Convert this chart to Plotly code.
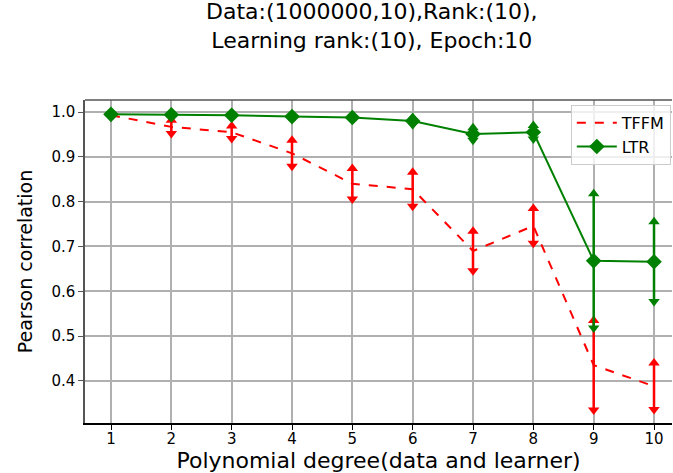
import plotly.graph_objects as go

degree = [1, 2, 3, 4, 5, 6, 7, 8, 9, 10]

tffm_mean = [0.993, 0.967, 0.955, 0.908, 0.840, 0.828, 0.690, 0.746, 0.435, 0.388]
tffm_err = [0.003, 0.015, 0.014, 0.029, 0.034, 0.038, 0.044, 0.039, 0.100, 0.052]

ltr_mean = [0.995, 0.994, 0.993, 0.990, 0.988, 0.980, 0.951, 0.955, 0.668, 0.666]
ltr_err = [0.002, 0.002, 0.003, 0.003, 0.003, 0.008, 0.014, 0.015, 0.150, 0.089]

title_lines = ["Data:(1000000,10),Rank:(10),", "Learning rank:(10), Epoch:10"]

FONT = "DejaVu Sans"


def add_series(fig, name, mean, err, color, dash, marker):
    up = [m + e for m, e in zip(mean, err)]
    lo = [m - e for m, e in zip(mean, err)]
    fig.add_trace(go.Scatter(
        x=degree, y=mean, name=name, mode="lines+markers" if marker else "lines",
        line=dict(color=color, width=2, dash=dash),
        marker=dict(symbol="diamond", size=12, color=color) if marker else None,
        error_y=dict(type="data", array=err, visible=True, color=color, thickness=2.5, width=0),
    ))
    # arrow-like caps at the ends of the error bars
    fig.add_trace(go.Scatter(x=degree, y=up, mode="markers", showlegend=False, hoverinfo="skip",
                             marker=dict(symbol="triangle-up", size=10, color=color)))
    fig.add_trace(go.Scatter(x=degree, y=lo, mode="markers", showlegend=False, hoverinfo="skip",
                             marker=dict(symbol="triangle-down", size=10, color=color)))


fig = go.Figure()
add_series(fig, "TFFM", tffm_mean, tffm_err, "red", "dash", False)
add_series(fig, "LTR", ltr_mean, ltr_err, "green", "solid", True)

fig.update_layout(
    width=673, height=473,
    margin=dict(l=85, r=1, t=100, b=50),
    plot_bgcolor="white", paper_bgcolor="white",
    font=dict(family=FONT, color="black"),
    legend=dict(x=0.998, y=0.985, xanchor="right", yanchor="top",
                bordercolor="#cccccc", borderwidth=1, bgcolor="rgba(255,255,255,0.8)",
                font=dict(size=16, family=FONT), itemwidth=40, tracegroupgap=0),
    annotations=[dict(text="<br>".join(title_lines), xref="paper", yref="paper",
                      x=(372 - 85) / 587, y=1.319, xanchor="center", yanchor="top",
                      showarrow=False, font=dict(size=22, family=FONT))],
    shapes=[dict(type="line", xref="paper", yref="paper", x0=0, x1=1, y0=1, y1=1,
                 line=dict(color="#555555", width=1.5))],
)
fig.update_xaxes(
    range=[0.569, 10.298], tickvals=degree, ticktext=[str(d) for d in degree],
    showgrid=True, gridcolor="#b0b0b0", gridwidth=1.5, zeroline=False,
    showline=True, linecolor="black", linewidth=1.5,
    ticks="outside", ticklen=5, tickcolor="black", tickfont=dict(size=15),
    ticklabelstandoff=-4,
    title=dict(text="Polynomial degree(data and learner)", font=dict(size=22), standoff=0),
)
fig.update_yaxes(
    range=[0.306, 1.027], tickvals=[0.4, 0.5, 0.6, 0.7, 0.8, 0.9, 1.0], tickformat=".1f",
    showgrid=True, gridcolor="#b0b0b0", gridwidth=1.5, zeroline=False,
    showline=True, linecolor="#555555", linewidth=1.5,
    ticks="outside", ticklen=5, tickcolor="#555555", tickfont=dict(size=15),
    title=dict(text="Pearson correlation", font=dict(size=19), standoff=14),
)

fig.write_html("out.html", config={"displayModeBar": False},
               post_script="document.body.style.margin='0';")
